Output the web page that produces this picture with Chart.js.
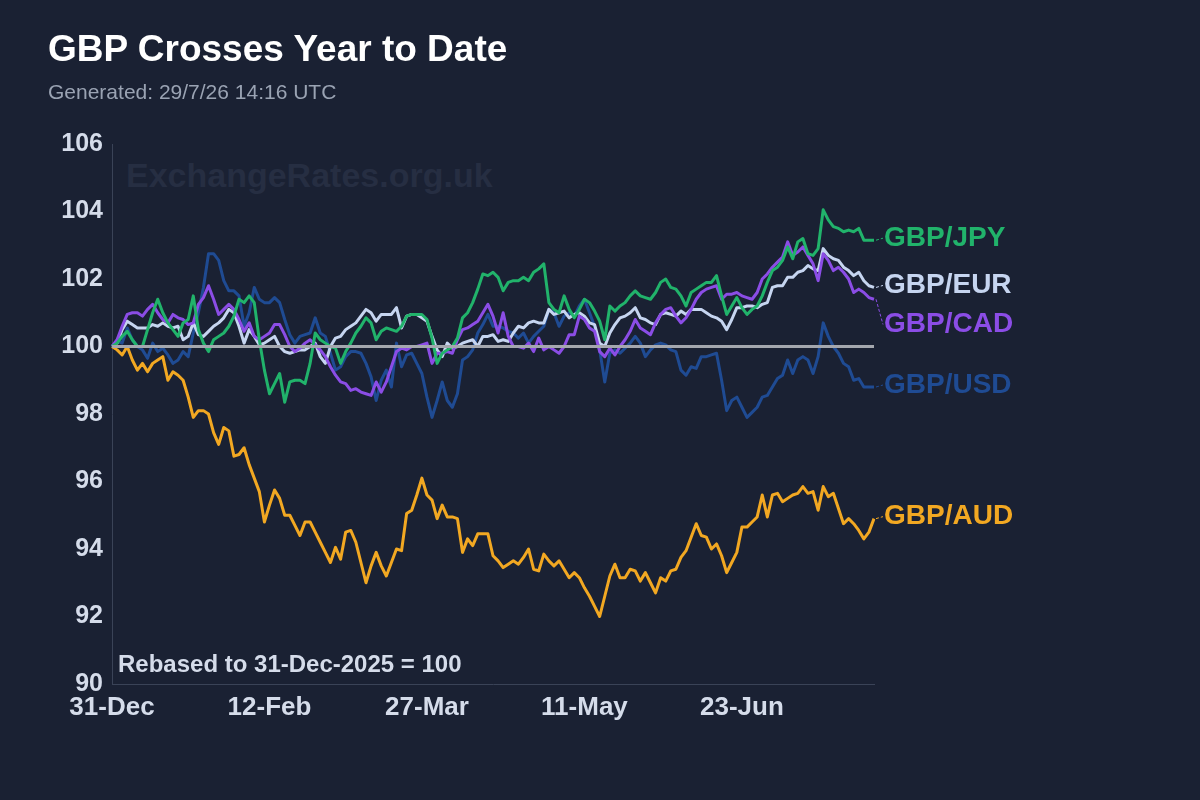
<!DOCTYPE html>
<html>
<head>
<meta charset="utf-8">
<script src="https://cdn.jsdelivr.net/npm/chart.js"></script>
<style>
  body { margin: 0; background: #1a2133; }
  #wrap { position: relative; width: 1200px; height: 800px; background: #1a2133; overflow: hidden; font-family: "Liberation Sans", Arial, sans-serif; }
  #chart { position: absolute; left: 0; top: 0; z-index: 1; }
  .txt { position: absolute; white-space: nowrap; line-height: 1; }
  #title { left: 48px; top: 30px; font-size: 37px; font-weight: bold; color: #ffffff; z-index: 2; }
  #subtitle { left: 48px; top: 81px; font-size: 21px; color: #9aa3b3; z-index: 2; }
  #watermark { left: 126px; top: 158px; font-size: 34px; font-weight: bold; color: #262e42; z-index: 0; }
  #rebased { left: 118px; top: 652px; font-size: 24px; font-weight: bold; color: #d5dcea; z-index: 2; }
</style>
</head>
<body>
<div id="wrap">
  <div class="txt" id="watermark">ExchangeRates.org.uk</div>
  <canvas id="chart" width="1200" height="800"></canvas>
  <div class="txt" id="title">GBP Crosses Year to Date</div>
  <div class="txt" id="subtitle">Generated: 29/7/26 14:16 UTC</div>
  <div class="txt" id="rebased">Rebased to 31-Dec-2025 = 100</div>
</div>
<script>
// Rebased daily values (business days from 31-Dec-2025 to 29-Jul-2026)
const gbpJpy = [
  100.0, 100.1, 100.3, 100.45, 100.2, 100.0, 100.0, 100.5, 101.0, 101.4,
  101.0, 100.7, 100.5, 100.3, 100.7, 100.8, 101.5, 100.5, 100.1, 99.85,
  100.2, 100.3, 100.4, 100.6, 100.9, 101.4, 101.3, 101.5, 101.3, 100.2,
  99.3, 98.6, 98.9, 99.2, 98.35, 98.95, 99.0, 99.0, 98.9, 99.5,
  100.4, 100.2, 100.1, 100.0, 99.95, 99.5, 99.85, 100.1, 100.4, 100.6,
  100.85, 100.7, 100.2, 100.45, 100.55, 100.5, 100.45, 100.6, 100.9, 100.95,
  100.95, 100.95, 100.8, 100.25, 99.5, 99.8, 99.9, 100.0, 100.25, 100.85,
  101.0, 101.3, 101.7, 102.15, 102.1, 102.2, 102.05, 101.65, 101.9, 101.95,
  101.95, 102.05, 101.95, 102.2, 102.3, 102.45, 101.3, 101.1, 101.0, 101.5,
  101.1, 100.85, 101.1, 101.4, 101.3, 101.05, 100.75, 100.2, 101.2, 101.05,
  101.2, 101.3, 101.5, 101.65, 101.5, 101.45, 101.4, 101.6, 101.9, 102.0,
  101.75, 101.7, 101.5, 101.2, 101.6, 101.7, 101.8, 101.9, 101.9, 102.1,
  101.5, 100.95, 101.2, 101.45, 101.15, 100.95, 101.1, 101.2, 101.5, 101.9,
  102.25, 102.35, 102.55, 102.95, 102.6, 103.1, 103.2, 102.75, 102.7, 102.9,
  104.05, 103.75, 103.55, 103.5, 103.4, 103.45, 103.4, 103.5, 103.15, 103.15,
  103.15
];
const gbpEur = [
  100.0, 100.1, 100.5, 100.75, 100.65, 100.55, 100.55, 100.55, 100.65, 100.6,
  100.7, 100.6, 100.55, 100.6, 100.2, 100.3, 100.7, 100.35, 100.3, 100.45,
  100.6, 100.7, 100.85, 101.1, 101.0, 100.6, 100.1, 100.5, 100.3, 100.05,
  100.1, 100.2, 100.3, 100.0, 99.85, 99.8, 99.85, 99.9, 99.9, 100.0,
  100.1, 99.7, 99.5, 100.0, 100.25, 100.3, 100.5, 100.6, 100.7, 100.9,
  101.1, 101.0, 100.75, 100.95, 100.95, 100.95, 101.15, 100.55, 100.9, 100.95,
  100.95, 100.85, 100.75, 100.3, 99.9, 99.7, 100.1, 99.95, 100.0, 100.1,
  100.15, 100.2, 100.0, 100.3, 100.3, 100.35, 100.15, 100.2, 100.15, 100.4,
  100.6, 100.55, 100.7, 100.75, 100.7, 100.7, 101.1, 100.95, 101.0, 101.05,
  100.85, 100.95, 101.0, 100.9, 100.7, 100.65, 100.1, 100.0, 100.4, 100.65,
  100.85, 100.9, 101.0, 101.15, 100.85, 100.8, 100.7, 100.65, 100.95, 101.0,
  100.95, 100.9, 101.05, 100.95, 101.1, 101.1, 101.1, 101.0, 100.9, 100.85,
  100.75, 100.5, 100.8, 101.15, 101.15, 101.2, 101.2, 101.15, 101.25, 101.3,
  101.75, 101.8, 101.8, 102.05, 102.05, 102.2, 102.25, 102.4, 102.3, 102.25,
  102.9, 102.7, 102.6, 102.55, 102.35, 102.25, 102.1, 102.2, 101.95, 101.8,
  101.75
];
const gbpCad = [
  100.0, 100.2, 100.6, 100.95, 101.0, 101.0, 100.9, 101.1, 101.25, 101.0,
  100.8, 100.7, 100.95, 100.85, 100.8, 100.65, 100.7, 101.25, 101.45, 101.8,
  101.4, 100.95, 101.1, 101.25, 101.1, 100.8, 100.45, 100.7, 100.3, 100.2,
  100.3, 100.4, 100.65, 100.65, 100.35, 100.0, 99.85, 99.95, 100.1, 100.2,
  100.05, 99.9, 99.7, 99.4, 99.15, 98.95, 98.9, 98.7, 98.75, 98.65,
  98.6, 98.55, 98.95, 98.65, 98.95, 99.4, 99.85, 99.95, 99.9, 100.0,
  100.0, 100.05, 100.1, 99.5, 99.8, 99.8, 99.85, 99.8, 100.2, 100.5,
  100.55, 100.65, 100.75, 101.0, 101.25, 100.9, 100.4, 101.0, 100.3, 100.0,
  100.0, 99.95, 100.1, 99.85, 100.25, 99.9, 100.0, 99.9, 99.8, 100.0,
  100.35, 100.35, 100.9, 100.8, 100.55, 100.45, 99.85, 99.7, 99.95, 99.75,
  100.0, 100.2, 100.45, 100.8, 100.55, 100.45, 100.35, 100.7, 100.95, 101.1,
  101.15, 100.9, 100.7, 100.85, 101.1, 101.4, 101.6, 101.7, 101.75, 101.8,
  101.4, 101.55, 101.55, 101.6, 101.5, 101.45, 101.4, 101.6, 102.0, 102.15,
  102.35, 102.5, 102.65, 103.1, 102.7, 102.8, 102.95, 102.7, 102.45, 101.95,
  102.75, 102.55, 102.25, 102.35, 102.2, 102.0, 101.6, 101.7, 101.6, 101.45,
  101.4
];
const gbpUsd = [
  100.0, 100.15, 100.1, 100.55, 100.2, 100.0, 99.9, 99.65, 100.1, 99.85,
  99.95, 99.75, 99.5, 99.6, 99.85, 99.7, 100.4, 101.0, 101.75, 102.75,
  102.75, 102.55, 101.95, 101.65, 101.65, 101.5, 100.6, 101.0, 101.75, 101.4,
  101.3, 101.3, 101.45, 101.3, 100.8, 100.35, 100.1, 100.3, 100.35, 100.4,
  100.85, 100.4, 100.3, 99.8, 99.3, 99.4, 99.7, 99.85, 99.85, 99.8,
  99.5, 99.1, 98.4, 99.0, 99.3, 98.8, 100.1, 99.4, 99.75, 99.8,
  99.5, 99.2, 98.5, 97.9, 98.4, 98.95, 98.4, 98.2, 98.6, 99.6,
  99.7, 99.9, 100.4, 100.65, 100.95, 100.6, 100.6, 100.55, 100.45, 100.4,
  100.25, 100.4, 100.1, 100.3, 100.45, 100.6, 101.1, 101.0, 100.6, 100.9,
  101.0, 100.9, 101.2, 101.4, 101.0, 100.6, 99.9, 98.95, 99.8, 99.9,
  99.8, 99.95, 100.1, 100.3, 100.1, 99.7, 99.9, 100.05, 100.1, 100.05,
  99.9, 99.85, 99.3, 99.15, 99.4, 99.35, 99.7, 99.7, 99.75, 99.8,
  99.0, 98.1, 98.4, 98.5, 98.2, 97.9, 98.05, 98.2, 98.5, 98.55,
  98.8, 99.05, 99.15, 99.6, 99.2, 99.6, 99.7, 99.6, 99.2, 99.7,
  100.7, 100.3, 100.0, 99.8, 99.5, 99.4, 99.0, 99.05, 98.8, 98.8,
  98.8
];
const gbpAud = [
  100.0, 99.9, 99.75, 100.0, 99.6, 99.3, 99.5, 99.25, 99.5, 99.6,
  99.7, 99.0, 99.25, 99.15, 99.0, 98.5, 97.9, 98.1, 98.1, 98.0,
  97.45, 97.1, 97.6, 97.5, 96.75, 96.8, 97.0, 96.5, 96.1, 95.7,
  94.8, 95.3, 95.75, 95.5, 95.0, 95.0, 94.7, 94.4, 94.8, 94.8,
  94.5, 94.2, 93.9, 93.6, 94.05, 93.7, 94.5, 94.55, 94.2, 93.6,
  93.0, 93.5, 93.9, 93.5, 93.2, 93.6, 94.0, 93.95, 95.05, 95.15,
  95.6, 96.1, 95.6, 95.45, 94.9, 95.3, 94.95, 94.95, 94.9, 93.9,
  94.3, 94.1, 94.45, 94.45, 94.45, 93.8, 93.65, 93.45, 93.55, 93.65,
  93.55, 93.75, 94.0, 93.4, 93.35, 93.85, 93.65, 93.5, 93.65, 93.4,
  93.15, 93.3, 93.15, 92.85, 92.6, 92.3, 92.0, 92.6, 93.2, 93.55,
  93.15, 93.15, 93.4, 93.35, 93.05, 93.3, 93.0, 92.7, 93.15, 93.05,
  93.35, 93.4, 93.75, 93.95, 94.35, 94.75, 94.4, 94.35, 94.0, 94.15,
  93.8, 93.3, 93.6, 93.9, 94.65, 94.65, 94.8, 94.95, 95.6, 94.95,
  95.6, 95.65, 95.4, 95.5, 95.6, 95.65, 95.85, 95.65, 95.7, 95.15,
  95.85, 95.55, 95.65, 95.2, 94.75, 94.9, 94.75, 94.55, 94.3, 94.5,
  94.9
];

const tickLabels = ['31-Dec', '12-Feb', '27-Mar', '11-May', '23-Jun'];
const baseValue = 100;

// business-day categories starting 31-Dec-2025
const months = ['Jan','Feb','Mar','Apr','May','Jun','Jul','Aug','Sep','Oct','Nov','Dec'];
const dates = [];
const day = new Date(Date.UTC(2025, 11, 31));
while (dates.length < gbpAud.length) {
  const wd = day.getUTCDay();
  if (wd !== 0 && wd !== 6) dates.push(day.getUTCDate() + '-' + months[day.getUTCMonth()]);
  day.setUTCDate(day.getUTCDate() + 1);
}

const series = [
  { name: 'GBP/JPY', data: gbpJpy, color: '#21b36b', order: 2 },
  { name: 'GBP/EUR', data: gbpEur, color: '#c6d5f0', order: 4 },
  { name: 'GBP/CAD', data: gbpCad, color: '#8b4de6', order: 3 },
  { name: 'GBP/USD', data: gbpUsd, color: '#1f4b93', order: 5 },
  { name: 'GBP/AUD', data: gbpAud, color: '#f2a822', order: 1 }
];

const FONT = '"Liberation Sans", Arial, sans-serif';
const tickColor = '#d5dcea';

// 100 reference line and end-of-line labels
const endLabels = {
  id: 'endLabels',
  afterDatasetsDraw(chart) {
    const { ctx, chartArea, scales } = chart;
    const y100 = scales.y.getPixelForValue(baseValue);
    ctx.save();
    ctx.strokeStyle = '#a4a7ae';
    ctx.lineWidth = 3;
    ctx.beginPath();
    ctx.moveTo(chartArea.left, y100);
    ctx.lineTo(chartArea.right, y100);
    ctx.stroke();

    const last = dates.length - 1;
    const xEnd = scales.x.getPixelForValue(last);
    const items = series.map(s => ({ s, y: scales.y.getPixelForValue(s.data[last]) }))
      .sort((a, b) => a.y - b.y);
    items.forEach((it, i) => {
      it.ly = i === 0 ? it.y : Math.max(it.y, items[i - 1].ly + 39);
    });
    ctx.font = 'bold 28px ' + FONT;
    ctx.textBaseline = 'middle';
    ctx.textAlign = 'left';
    items.forEach(it => {
      ctx.strokeStyle = it.s.color;
      ctx.lineWidth = 1;
      ctx.setLineDash([3, 2]);
      ctx.beginPath();
      ctx.moveTo(xEnd + 2, it.y);
      ctx.lineTo(xEnd + 9, it.ly - 2);
      ctx.stroke();
      ctx.setLineDash([]);
      ctx.fillStyle = it.s.color;
      ctx.fillText(it.s.name, xEnd + 10, it.ly - 2);
    });
    ctx.restore();
  }
};

new Chart(document.getElementById('chart').getContext('2d'), {
  type: 'line',
  data: {
    labels: dates,
    datasets: series.map(s => ({
      label: s.name,
      data: s.data,
      borderColor: s.color,
      backgroundColor: s.color,
      borderWidth: 3,
      pointRadius: 0,
      tension: 0,
      borderJoinStyle: 'round',
      order: s.order
    }))
  },
  options: {
    responsive: false,
    animation: false,
    devicePixelRatio: 1,
    layout: { padding: { left: 0, top: 144, right: 326, bottom: 0 } },
    plugins: {
      legend: { display: false },
      tooltip: { enabled: false },
      title: { display: false }
    },
    scales: {
      x: {
        offset: false,
        grid: { display: false, drawTicks: false },
        border: { display: true, color: '#3a4357', width: 1 },
        ticks: {
          autoSkip: false,
          maxRotation: 0,
          padding: 8,
          color: tickColor,
          font: { family: FONT, size: 26, weight: 'bold' },
          callback(v) {
            const l = this.getLabelForValue(v);
            return tickLabels.includes(l) ? l : '';
          }
        },
        afterFit(s) { s.height = 116; }
      },
      y: {
        min: 90,
        max: 106,
        grid: { display: false, drawTicks: false },
        border: { display: true, color: '#3a4357', width: 1 },
        ticks: {
          stepSize: 2,
          padding: 9,
          color: tickColor,
          font: { family: FONT, size: 25, weight: 'bold' }
        },
        afterFit(s) { s.width = 112; }
      }
    }
  },
  plugins: [endLabels]
});
</script>
</body>
</html>
